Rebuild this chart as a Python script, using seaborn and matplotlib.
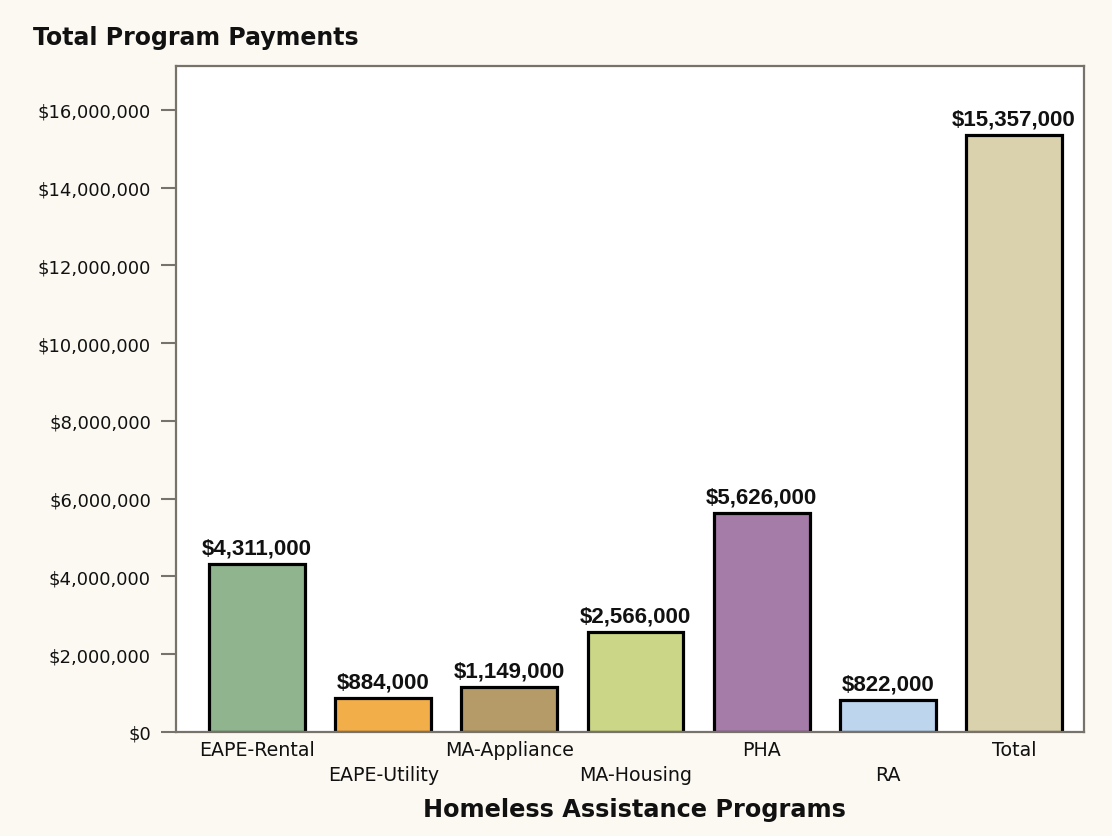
import matplotlib
matplotlib.use("Agg")
import matplotlib.pyplot as plt
import matplotlib.transforms as mtransforms
from matplotlib.ticker import FuncFormatter, MultipleLocator
import seaborn as sns
import pandas as pd

programs = ["EAPE-Rental", "EAPE-Utility", "MA-Appliance", "MA-Housing", "PHA", "RA", "Total"]
payments = [4311000, 884000, 1149000, 2566000, 5626000, 822000, 15357000]
bar_colors = ["#8FB48E", "#F2AE48", "#B49B68", "#CBD686", "#A57BA8", "#BED5EE", "#DAD2AD"]

df = pd.DataFrame({"program": programs, "payment": payments})

sns.set_theme(style="white")
plt.rcParams["font.family"] = ["DejaVu Sans"]

bg = "#FCF9F2"
spine_c = "#77736A"
ink = "#111111"

fig = plt.figure(figsize=(11.12, 8.37), dpi=100, facecolor=bg)
ax = fig.add_axes([176 / 1112, 1 - 733 / 837, (1084 - 176) / 1112, (733 - 67) / 837])
ax.set_facecolor("white")

sns.barplot(data=df, x="program", y="payment", hue="program", order=programs,
            hue_order=programs, palette=bar_colors, saturation=1, width=0.76,
            edgecolor="black", linewidth=2.3, legend=False, ax=ax)

for cont in ax.containers:
    ax.bar_label(cont, labels=[f"${v:,.0f}" for v in cont.datavalues], padding=4,
                 fontsize=16, fontweight="bold", color=ink,
                 family=["Liberation Sans", "DejaVu Sans"])

ax.set_ylim(0, 17130000)
ax.set_xlim(-0.643, 6.556)
ax.yaxis.set_major_locator(MultipleLocator(2000000))
ax.yaxis.set_major_formatter(FuncFormatter(lambda v, p: f"${v:,.0f}"))

for s in ax.spines.values():
    s.set_color(spine_c)
    s.set_linewidth(1.6)

ax.tick_params(axis="y", length=11, width=1.5, color=spine_c, pad=7,
               labelsize=13, labelcolor=ink, left=True)
ax.tick_params(axis="x", length=0, pad=6, labelsize=13.7, labelcolor=ink)

# stagger category labels onto two rows
for i, lab in enumerate(ax.get_xticklabels()):
    if i % 2 == 1:
        lab.set_transform(lab.get_transform() +
                          mtransforms.ScaledTranslation(0, -25 / 100, fig.dpi_scale_trans))

ax.set_xlabel("Homeless Assistance Programs", fontsize=17.3, fontweight="bold", color=ink)
ax.xaxis.set_label_coords(0.505, -0.097)
ax.set_ylabel("")

fig.text(33 / 1112, 1 - 45 / 837, "Total Program Payments", fontsize=17,
         fontweight="bold", color=ink, ha="left", va="baseline")

fig.savefig("out.png", dpi=100, facecolor=bg)
